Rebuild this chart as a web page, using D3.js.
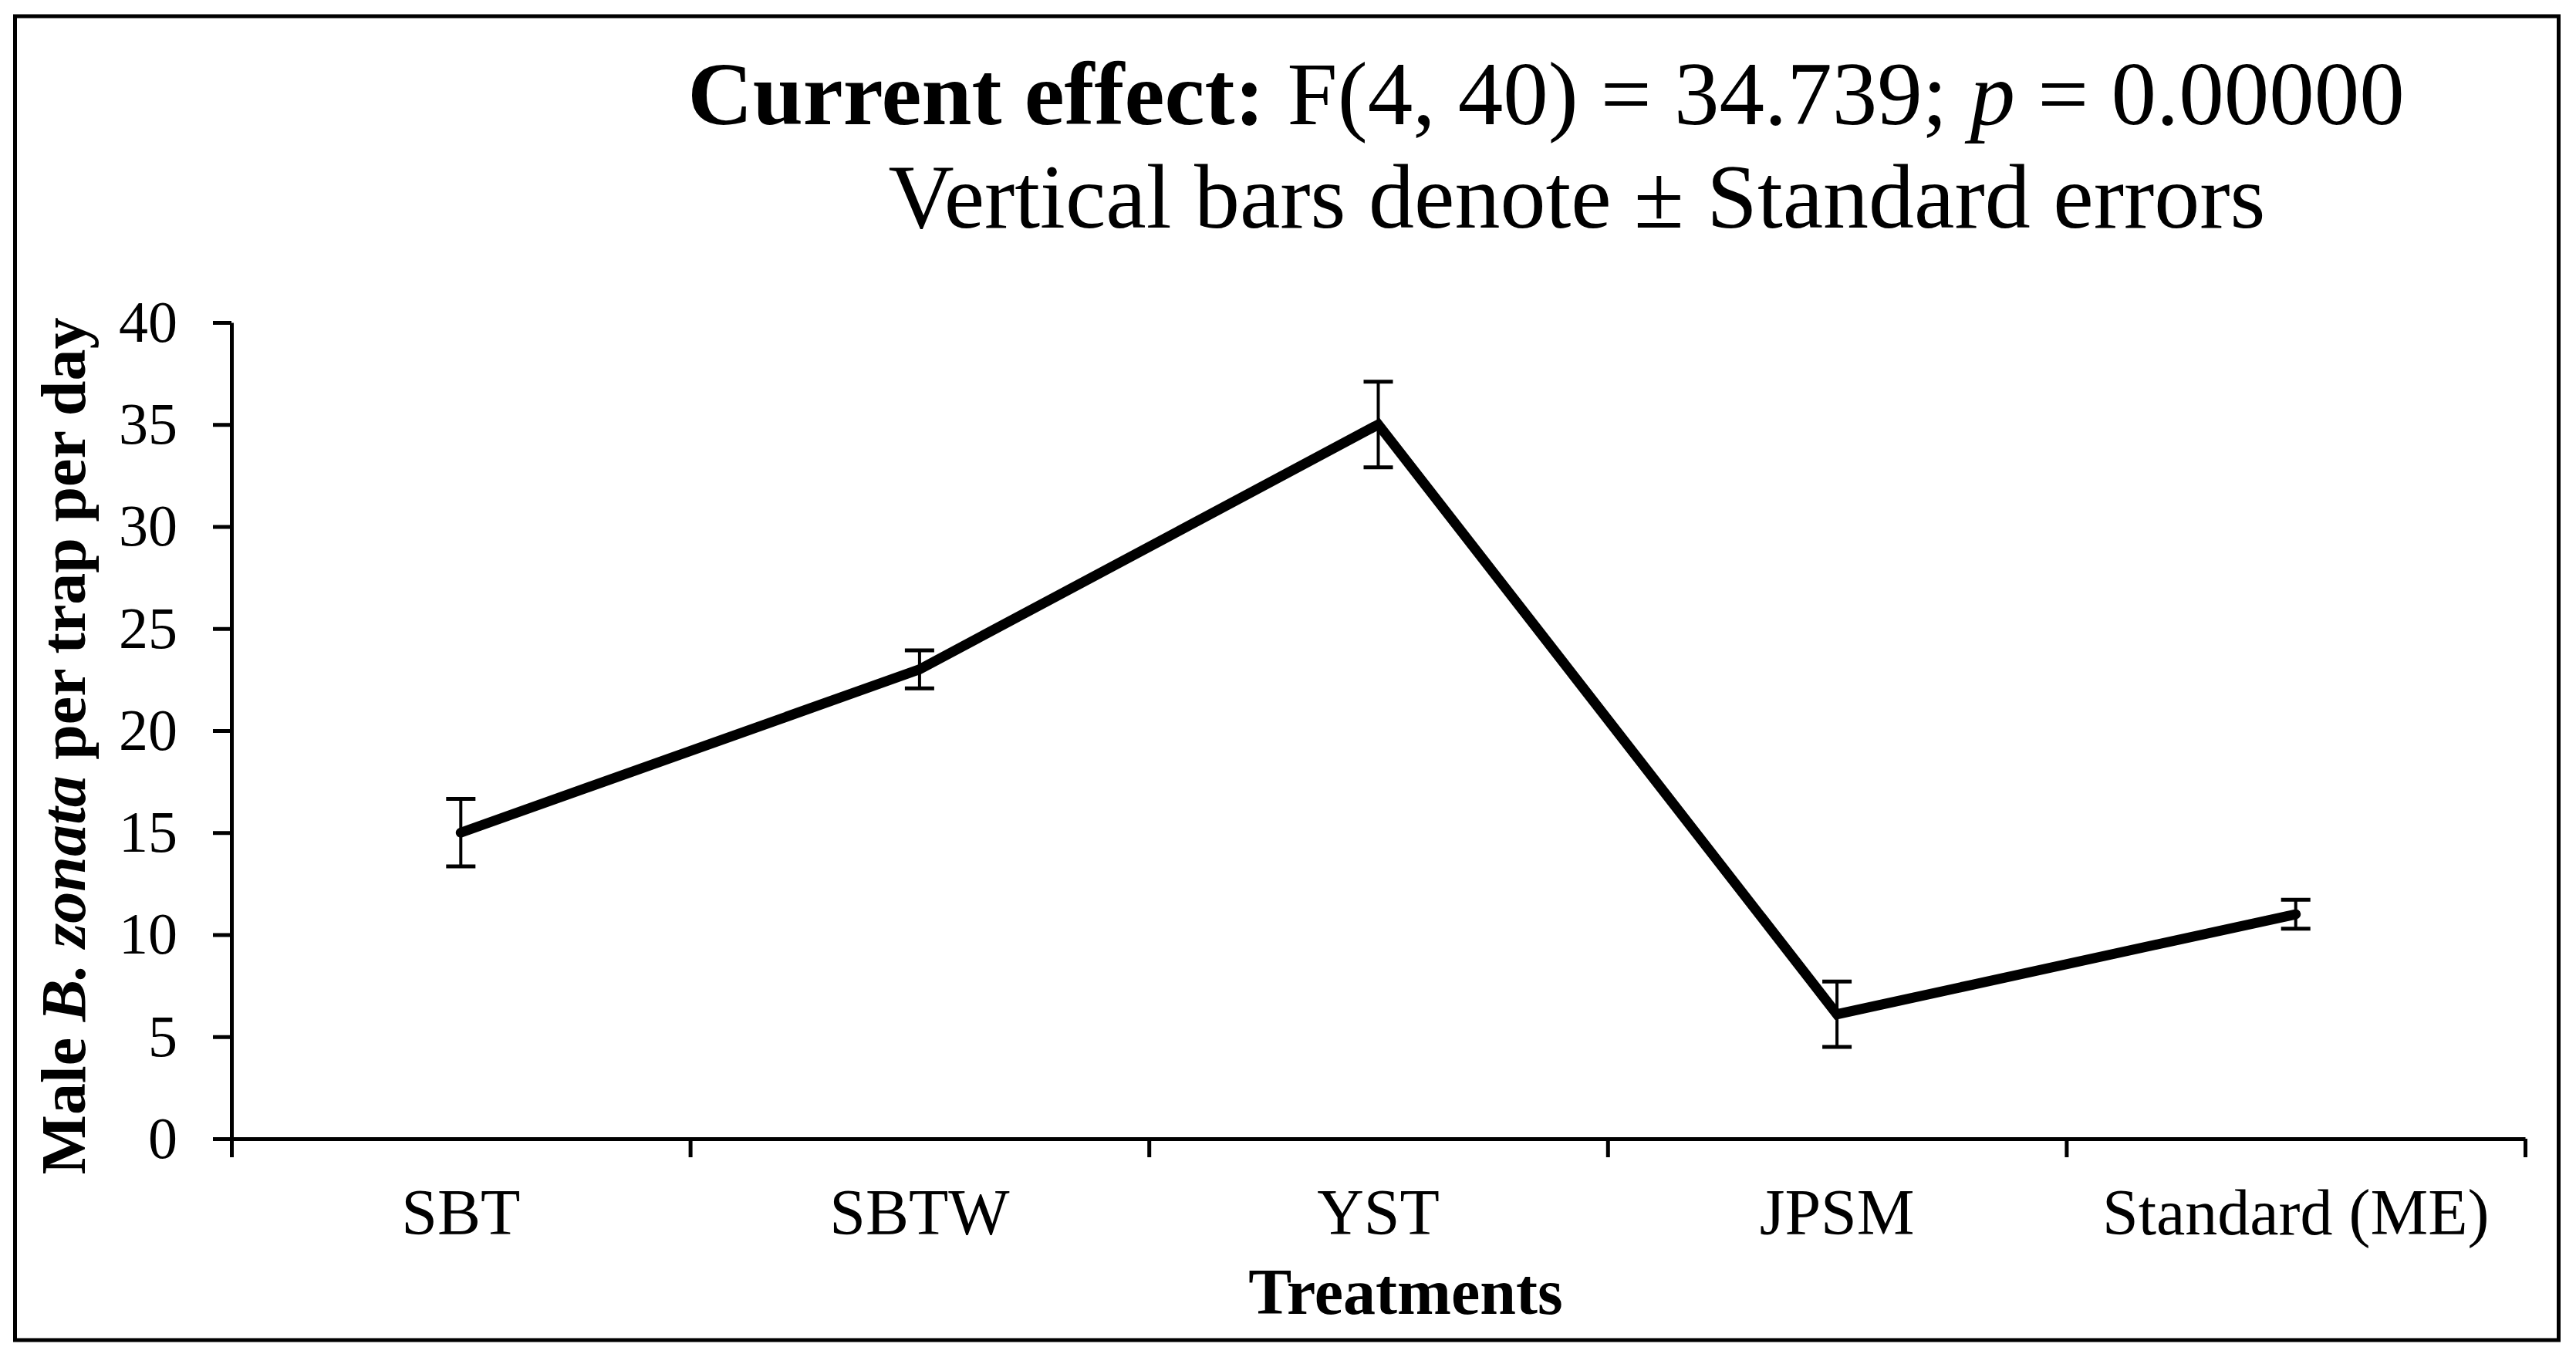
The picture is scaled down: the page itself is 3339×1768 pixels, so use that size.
<!DOCTYPE html>
<html>

<head>
    <meta charset="UTF-8">
    <title>Male B. zonata per trap per day by treatment</title>
    <script src="https://d3js.org/d3.v7.min.js"></script>
    <style>
        body { margin: 0; background: #fff; }
        text { font-family: "Liberation Serif", "Times New Roman", serif; fill: #000; }
    </style>
</head>

<body>
    <script>
        // values
        const treatments = ["SBT", "SBTW", "YST", "JPSM", "Standard (ME)"];
        const means = [15.0, 23.0, 35.0, 6.1, 11.0];
        const stdErrors = [1.65, 0.93, 2.1, 1.6, 0.71];
        const yTicks = [0, 5, 10, 15, 20, 25, 30, 35, 40];

        const data = treatments.map((t, i) => ({ name: t, mean: means[i], se: stdErrors[i] }));

        const width = 3339, height = 1768;
        const plotLeft = 300, plotRight = 3273, plotTop = 418, plotBottom = 1476;

        const svg = d3.select("body").append("svg")
            .attr("width", width).attr("height", height);

        // outer frame
        svg.append("rect")
            .attr("x", 19.5).attr("y", 21)
            .attr("width", 3297).attr("height", 1716)
            .attr("fill", "none").attr("stroke", "#000").attr("stroke-width", 5);

        const xScale = d3.scaleBand()
            .domain(treatments)
            .range([plotLeft, plotRight])
            .padding(0);

        const yScale = d3.scaleLinear()
            .domain([0, 40])
            .range([plotBottom, plotTop]);

        // y axis
        const yAxis = svg.append("g")
            .attr("transform", `translate(${plotLeft},0)`)
            .call(d3.axisLeft(yScale).tickValues(yTicks).tickSize(24).tickSizeOuter(0).tickPadding(46));
        yAxis.selectAll("text").style("font-size", "76px");

        // x axis: ticks on the category boundaries
        const edgeScale = d3.scaleLinear().domain([0, treatments.length]).range([plotLeft, plotRight]);
        svg.append("g")
            .attr("transform", `translate(0,${plotBottom})`)
            .call(d3.axisBottom(edgeScale).ticks(treatments.length).tickSize(24).tickSizeOuter(0).tickFormat(""));

        // x labels in the middle of each category
        const xAxis = svg.append("g")
            .attr("transform", `translate(0,${plotBottom})`)
            .call(d3.axisBottom(xScale).tickSize(0).tickPadding(64));
        xAxis.select(".domain").remove();
        xAxis.selectAll("text").style("font-size", "84px");

        svg.selectAll(".domain, .tick line")
            .attr("stroke", "#000").attr("stroke-width", 5);

        // error bars
        const capHalf = 19;
        const bars = svg.append("g").attr("stroke", "#000").attr("stroke-width", 4).attr("fill", "none");
        data.forEach(d => {
            const cx = xScale(d.name) + xScale.bandwidth() / 2;
            const yHi = yScale(d.mean + d.se), yLo = yScale(d.mean - d.se);
            bars.append("line").attr("x1", cx).attr("x2", cx).attr("y1", yHi).attr("y2", yLo);
            bars.append("line").attr("x1", cx - capHalf).attr("x2", cx + capHalf).attr("y1", yHi).attr("y2", yHi).attr("stroke-width", 5);
            bars.append("line").attr("x1", cx - capHalf).attr("x2", cx + capHalf).attr("y1", yLo).attr("y2", yLo).attr("stroke-width", 5);
        });

        // mean line
        const line = d3.line()
            .x(d => xScale(d.name) + xScale.bandwidth() / 2)
            .y(d => yScale(d.mean));

        svg.append("path")
            .datum(data)
            .attr("d", line)
            .attr("fill", "none")
            .attr("stroke", "#000")
            .attr("stroke-width", 13)
            .attr("stroke-linecap", "round")
            .attr("stroke-linejoin", "miter");

        // titles
        const t1 = svg.append("text")
            .attr("x", 2004).attr("y", 161)
            .attr("text-anchor", "middle")
            .style("font-size", "117px");
        t1.append("tspan").attr("font-weight", "bold").text("Current effect:");
        t1.append("tspan").text(" F(4, 40) = 34.739; ");
        t1.append("tspan").attr("font-style", "italic").text("p");
        t1.append("tspan").text(" = 0.00000");

        svg.append("text")
            .attr("x", 2044).attr("y", 295)
            .attr("text-anchor", "middle")
            .style("font-size", "118px")
            .text("Vertical bars denote \u00b1 Standard errors");

        svg.append("text")
            .attr("x", 1822).attr("y", 1703)
            .attr("text-anchor", "middle")
            .attr("font-weight", "bold")
            .style("font-size", "84px")
            .text("Treatments");

        const yt = svg.append("text")
            .attr("transform", "translate(110,967) rotate(-90)")
            .attr("text-anchor", "middle")
            .attr("font-weight", "bold")
            .style("font-size", "82px");
        yt.append("tspan").text("Male ");
        yt.append("tspan").attr("font-style", "italic").text("B. zonata");
        yt.append("tspan").text(" per trap per day");
    </script>
</body>

</html>
